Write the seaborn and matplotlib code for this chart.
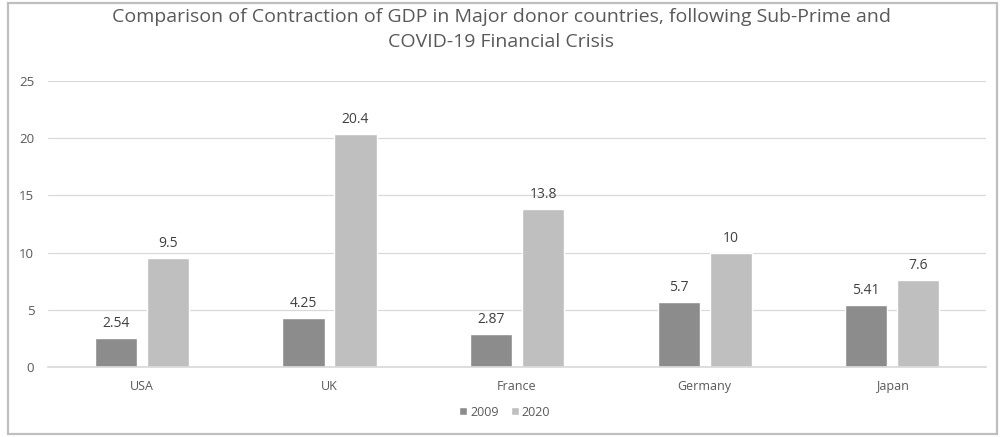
import matplotlib
matplotlib.use("Agg")
import matplotlib.pyplot as plt
from matplotlib.patches import Rectangle
import seaborn as sns
import pandas as pd

countries = ["USA", "UK", "France", "Germany", "Japan"]
gdp_2009 = [2.54, 4.25, 2.87, 5.7, 5.41]
gdp_2020 = [9.5, 20.4, 13.8, 10, 7.6]
years = ["2009", "2020"]
label_2009 = ["2.54", "4.25", "2.87", "5.7", "5.41"]
label_2020 = ["9.5", "20.4", "13.8", "10", "7.6"]
title = ("Comparison of Contraction of GDP in Major donor countries, following Sub-Prime and\n"
         "COVID-19 Financial Crisis")

df = pd.DataFrame({
    "country": countries * 2,
    "year": [years[0]] * len(countries) + [years[1]] * len(countries),
    "value": gdp_2009 + gdp_2020,
})

sns.set_theme(style="white")
plt.rcParams["font.family"] = ["Open Sans", "DejaVu Sans"]

text_col = "#595959"
fig = plt.figure(figsize=(10.03, 4.37), dpi=100)
ax = fig.add_axes([0.048, 0.160, 0.935, 0.655])

sns.barplot(data=df, x="country", y="value", hue="year", order=countries,
            hue_order=years, palette=["#8c8c8c", "#bfbfbf"], width=0.555,
            gap=0.19, saturation=1, ax=ax, legend=True)

for cont, labels in zip(ax.containers, [label_2009, label_2020]):
    ax.bar_label(cont, labels=labels, padding=5, fontsize=10, color="#404040")

ax.set_ylim(0, 25)
ax.set_yticks([0, 5, 10, 15, 20, 25])
ax.set_xlim(-0.5, 4.5)
ax.yaxis.grid(True, color="#d9d9d9", linewidth=0.9)
ax.set_axisbelow(True)
for s in ax.spines.values():
    s.set_visible(False)
ax.spines["bottom"].set_visible(True)
ax.spines["bottom"].set_color("#d9d9d9")
ax.tick_params(axis="x", length=0, labelsize=9, colors=text_col, pad=9)
ax.tick_params(axis="y", length=0, labelsize=9.5, colors=text_col, pad=10)
ax.set_xlabel("")
ax.set_ylabel("")

leg = ax.legend(loc="upper center", bbox_to_anchor=(0.487, -0.095), ncol=2,
                frameon=False, fontsize=9, handlelength=0.6, handleheight=0.6,
                handletextpad=0.25, columnspacing=1.0)
for t in leg.get_texts():
    t.set_color(text_col)

fig.text(0.5, 0.982, title, ha="center", va="top", fontsize=14,
         color=text_col, linespacing=1.5)

fig.patches.append(Rectangle((0.008, 0.007), 0.986, 0.986, transform=fig.transFigure,
                             fill=False, edgecolor="#bfbfbf", linewidth=1.6))

fig.savefig("out.png", dpi=100)
